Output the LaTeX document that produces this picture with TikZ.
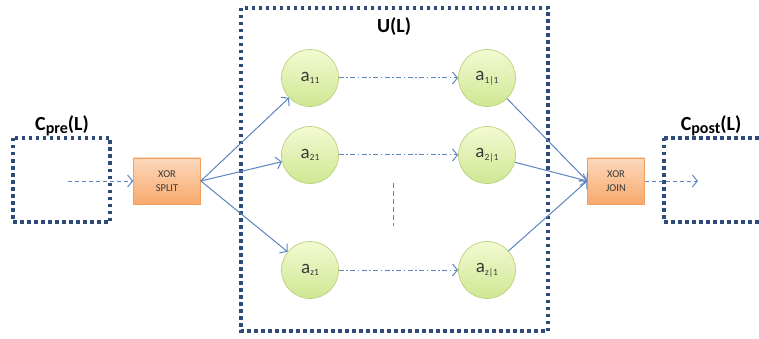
\documentclass[tikz,border=0pt]{standalone}
\usepackage{fontspec}
\setmainfont{Carlito}
\usetikzlibrary{arrows.meta,positioning}
\definecolor{framecol}{HTML}{2F4B7A}
\definecolor{linkcol}{HTML}{5B84C0}
\definecolor{gatetop}{HTML}{FCD9BC}
\definecolor{gatebot}{HTML}{F8A86C}
\definecolor{gateedge}{HTML}{F2A062}
\definecolor{acttop}{HTML}{F3FAD2}
\definecolor{actbot}{HTML}{CFE793}
\definecolor{actedge}{HTML}{B9D27E}
\definecolor{txtcol}{HTML}{3A3A3A}
\tikzset{
  frame/.style={draw=framecol,line width=3.2pt,dash pattern=on 3.5pt off 3.5pt},
  gate/.style={draw=gateedge,line width=0.6pt,top color=gatetop,bottom color=gatebot,
    minimum width=67pt,minimum height=46pt,inner sep=0pt,align=center,
    font=\fontsize{10.5}{14}\selectfont,text=txtcol},
  act/.style={circle,draw=actedge,line width=0.7pt,top color=acttop,bottom color=actbot,
    minimum size=57pt,inner sep=0pt,font=\fontsize{19}{20}\selectfont,text=txtcol},
  flow/.style={draw=linkcol,line width=1pt,-{Straight Barb[length=5pt,width=12pt,line width=1pt]}},
  dflow/.style={flow,dash pattern=on 4pt off 3pt},
  ddflow/.style={flow,dash pattern=on 5pt off 2.5pt on 1.5pt off 2.5pt},
  title/.style={font=\bfseries\fontsize{20}{22}\selectfont,text=black}
}
% small subscript for activity labels
\newcommand{\asub}[1]{\raisebox{-2.5pt}{\fontsize{9.5}{10}\selectfont #1}}
% large subscript for container labels
\newcommand{\csub}[1]{\raisebox{-3.5pt}{\fontsize{16}{17}\selectfont #1}}
\begin{document}
\begin{tikzpicture}[x=1pt,y=-1pt]
  \useasboundingbox (0,0) rectangle (759,339);
  % containers
  \draw[frame] (241,8) rectangle (548,331);
  \draw[frame] (13,138) rectangle (110,222);
  \draw[frame] (664,138) -- (664,222) -- (762,222);
  \draw[frame] (664,138) -- (762,138);
  \node[title] (ul) at (394,27) {U(L)};
  \node[title] (cpre) at (62,126) {C\csub{pre}(L)};
  \node[title] (cpost) at (711,126) {C\csub{post}(L)};
  % gateways
  \node[gate] (split) at (167,181) {XOR\\SPLIT};
  \node[gate,minimum width=57pt] (join) at (616,181) {XOR\\JOIN};
  % activities
  \node[act] (a11) at (310,78) {a\asub{11}};
  \node[act] (a1l) at (487,78) {a\asub{1|1}};
  \node[act] (a21) at (310,155) {a\asub{21}};
  \node[act] (a2l) at (487,155) {a\asub{2|1}};
  \node[act] (az1) at (310,270) {a\asub{z1}};
  \node[act] (azl) at (487,270) {a\asub{z|1}};
  % free ends of the dashed arrows
  \coordinate (inflow) at (68,181);
  \coordinate (outflow) at (698,181);
  \coordinate (gapt) at (393,183);
  \coordinate (gapb) at (393,226);
  % connectors
  \draw[dflow] (inflow) -- (split.west);
  \draw[dflow] (join.east) -- (outflow);
  \foreach \n in {a11,a21,az1} \draw[flow] (split.east) -- (\n);
  \foreach \n in {a1l,a2l,azl} \draw[flow] (\n) -- (join.west);
  \draw[ddflow] (a11) -- (a1l);
  \draw[ddflow] (a21) -- (a2l);
  \draw[ddflow] (az1) -- (azl);
  \draw[draw=linkcol,line width=0.8pt,dash pattern=on 5pt off 3pt] (gapt) -- (gapb);
\end{tikzpicture}
\end{document}
